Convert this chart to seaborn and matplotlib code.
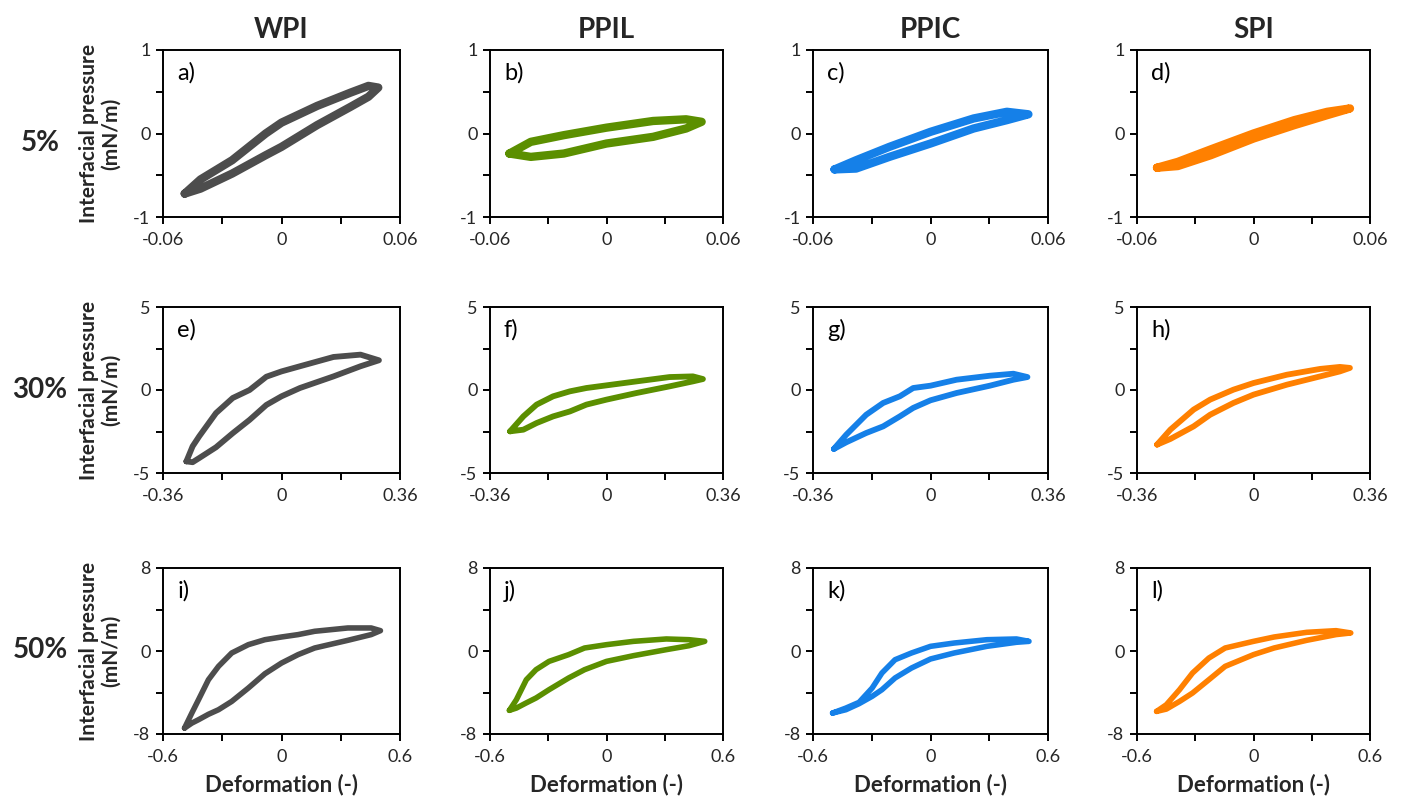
import matplotlib
matplotlib.use("Agg")
import matplotlib.pyplot as plt
import seaborn as sns
import pandas as pd
from matplotlib.ticker import FixedLocator

# ---------------- data ----------------
proteins = ["WPI", "PPIL", "PPIC", "SPI"]
amplitudes = ["5%", "30%", "50%"]
panel_letters = [["a)", "b)", "c)", "d)"], ["e)", "f)", "g)", "h)"], ["i)", "j)", "k)", "l)"]]
colors = ["#4d4d4d", "#5b8f00", "#1580e8", "#ff8000"]
x_limits = [0.06, 0.36, 0.6]
y_limits = [1, 5, 8]
x_ticklabels = [["-0.06", "0", "0.06"], ["-0.36", "0", "0.36"], ["-0.6", "0", "0.6"]]
y_ticklabels = [["-1", "0", "1"], ["-5", "0", "5"], ["-8", "0", "8"]]
x_label = "Deformation (-)"
y_label = "Interfacial pressure\n(mN/m)"

# each panel: tips (left end, right end), branch x, upper branch, lower branch
a_tip_x = [-0.049, 0.049]; a_tip_y = [-0.72, 0.55]
a_x = [-0.041, -0.025, -0.008, 0.0, 0.018, 0.035, 0.044]
a_up = [-0.55, -0.32, 0.0, 0.13, 0.33, 0.49, 0.57]
a_low = [-0.66, -0.48, -0.26, -0.16, 0.10, 0.32, 0.44]

b_tip_x = [-0.050, 0.049]; b_tip_y = [-0.24, 0.14]
b_x = [-0.039, -0.022, 0.0, 0.024, 0.041]
b_up = [-0.10, -0.02, 0.07, 0.15, 0.17]
b_low = [-0.28, -0.24, -0.12, -0.04, 0.06]

c_tip_x = [-0.049, 0.050]; c_tip_y = [-0.43, 0.23]
c_x = [-0.038, -0.021, 0.0, 0.022, 0.039]
c_up = [-0.32, -0.16, 0.02, 0.18, 0.26]
c_low = [-0.42, -0.28, -0.12, 0.06, 0.16]

d_tip_x = [-0.0497, 0.0497]; d_tip_y = [-0.41, 0.30]
d_x = [-0.039, -0.022, 0.0, 0.021, 0.038]
d_up = [-0.34, -0.19, 0.0, 0.16, 0.26]
d_low = [-0.39, -0.26, -0.06, 0.10, 0.22]

e_tip_x = [-0.289, 0.296]; e_tip_y = [-4.3, 1.79]
e_x = [-0.270, -0.250, -0.199, -0.148, -0.097, -0.046, 0.0, 0.056, 0.158, 0.240]
e_up = [-3.39, -2.79, -1.39, -0.48, 0.0, 0.80, 1.12, 1.43, 1.99, 2.13]
e_low = [-4.35, -4.1, -3.45, -2.6, -1.8, -0.9, -0.38, 0.12, 0.82, 1.43]

f_tip_x = [-0.298, 0.298]; f_tip_y = [-2.49, 0.66]
f_x = [-0.257, -0.216, -0.165, -0.113, -0.062, 0.0, 0.093, 0.195, 0.267]
f_up = [-1.59, -0.88, -0.38, -0.08, 0.12, 0.28, 0.52, 0.78, 0.82]
f_low = [-2.39, -1.99, -1.59, -1.29, -0.88, -0.58, -0.18, 0.22, 0.52]

g_tip_x = [-0.296, 0.297]; g_tip_y = [-3.55, 0.78]
g_x = [-0.258, -0.197, -0.145, -0.094, -0.053, 0.0, 0.080, 0.182, 0.254]
g_up = [-2.69, -1.49, -0.78, -0.38, 0.12, 0.26, 0.62, 0.86, 0.98]
g_low = [-3.15, -2.59, -2.19, -1.59, -1.08, -0.62, -0.18, 0.26, 0.62]

h_tip_x = [-0.298, 0.298]; h_tip_y = [-3.29, 1.33]
h_x = [-0.257, -0.185, -0.134, -0.062, 0.0, 0.103, 0.206, 0.267]
h_up = [-2.39, -1.18, -0.58, 0.02, 0.42, 0.92, 1.27, 1.39]
h_low = [-2.95, -2.19, -1.49, -0.78, -0.28, 0.32, 0.82, 1.12]

i_tip_x = [-0.491, 0.501]; i_tip_y = [-7.43, 1.96]
i_x = [-0.454, -0.420, -0.370, -0.319, -0.252, -0.168, -0.084, 0.0, 0.084, 0.168, 0.336, 0.454]
i_up = [-5.98, -4.69, -2.77, -1.48, -0.19, 0.61, 1.09, 1.35, 1.58, 1.90, 2.22, 2.22]
i_low = [-6.95, -6.62, -6.1, -5.66, -4.86, -3.57, -2.19, -1.16, -0.35, 0.29, 1.03, 1.58]

j_tip_x = [-0.50, 0.506]; j_tip_y = [-5.72, 0.93]
j_x = [-0.464, -0.413, -0.363, -0.296, -0.195, -0.113, 0.0, 0.139, 0.308, 0.425]
j_up = [-4.69, -2.77, -1.80, -1.0, -0.35, 0.29, 0.61, 0.93, 1.16, 1.09]
j_low = [-5.5, -5.0, -4.53, -3.73, -2.60, -1.80, -1.0, -0.45, 0.13, 0.51]

k_tip_x = [-0.50, 0.503]; k_tip_y = [-5.98, 0.93]
k_x = [-0.432, -0.365, -0.298, -0.248, -0.181, -0.097, 0.0, 0.121, 0.288, 0.439]
k_up = [-5.5, -4.95, -3.57, -2.12, -0.84, -0.19, 0.45, 0.77, 1.09, 1.16]
k_low = [-5.66, -5.08, -4.37, -3.73, -2.60, -1.64, -0.77, -0.19, 0.45, 0.84]

l_tip_x = [-0.499, 0.501]; l_tip_y = [-5.82, 1.74]
l_x = [-0.449, -0.381, -0.314, -0.230, -0.146, 0.0, 0.106, 0.274, 0.425]
l_up = [-5.18, -3.73, -2.12, -0.68, 0.29, 0.93, 1.35, 1.80, 1.96]
l_low = [-5.6, -4.86, -4.05, -2.77, -1.48, -0.35, 0.29, 1.03, 1.58]

panels = [
    [(a_tip_x, a_tip_y, a_x, a_up, a_low), (b_tip_x, b_tip_y, b_x, b_up, b_low),
     (c_tip_x, c_tip_y, c_x, c_up, c_low), (d_tip_x, d_tip_y, d_x, d_up, d_low)],
    [(e_tip_x, e_tip_y, e_x, e_up, e_low), (f_tip_x, f_tip_y, f_x, f_up, f_low),
     (g_tip_x, g_tip_y, g_x, g_up, g_low), (h_tip_x, h_tip_y, h_x, h_up, h_low)],
    [(i_tip_x, i_tip_y, i_x, i_up, i_low), (j_tip_x, j_tip_y, j_x, j_up, j_low),
     (k_tip_x, k_tip_y, k_x, k_up, k_low), (l_tip_x, l_tip_y, l_x, l_up, l_low)],
]

# ---------------- style ----------------
sns.set_style("ticks")
plt.rcParams["font.family"] = ["Lato", "DejaVu Sans"]
plt.rcParams["axes.linewidth"] = 1.4

W, H = 1402, 801
fig = plt.figure(figsize=(W / 100, H / 100), dpi=100)

col_left = [163, 490, 813, 1137]
col_right = [400, 723, 1048, 1370]
row_top = [50, 307, 568]
row_bot = [217, 473, 734]
line_w = [6.0, 4.2, 4.0]


def fx(px):
    return px / W


def fy(py):
    return 1 - py / H


for r in range(3):
    for c in range(4):
        l, rr = col_left[c], col_right[c]
        t, b = row_top[r], row_bot[r]
        ax = fig.add_axes([fx(l), fy(b), fx(rr - l), (b - t) / H])
        tip_x, tip_y, bx, up, low = panels[r][c]
        loop_x = [tip_x[0]] + bx + [tip_x[1]] + bx[::-1] + [tip_x[0]]
        loop_y = [tip_y[0]] + low + [tip_y[1]] + up[::-1] + [tip_y[0]]
        df = pd.DataFrame({"x": loop_x, "y": loop_y})
        sns.lineplot(data=df, x="x", y="y", sort=False, estimator=None, ax=ax,
                     color=colors[c], linewidth=line_w[r],
                     solid_capstyle="round", solid_joinstyle="round")
        xl, yl = x_limits[r], y_limits[r]
        ax.set_xlim(-xl, xl)
        ax.set_ylim(-yl, yl)
        ax.xaxis.set_major_locator(FixedLocator([-xl, 0, xl]))
        ax.yaxis.set_major_locator(FixedLocator([-yl, 0, yl]))
        ax.xaxis.set_minor_locator(FixedLocator([-xl / 2, xl / 2]))
        ax.yaxis.set_minor_locator(FixedLocator([-yl / 2, yl / 2]))
        ax.set_xticklabels(x_ticklabels[r])
        ax.set_yticklabels(y_ticklabels[r])
        ax.tick_params(which="both", direction="out", length=5, width=1.4,
                       color="black", labelsize=13, pad=4, top=False, right=False)
        ax.tick_params(axis="x", pad=6)
        for sp in ax.spines.values():
            sp.set_visible(True)
            sp.set_color("black")
            sp.set_linewidth(1.4)
        ax.set_xlabel("")
        ax.set_ylabel("")
        ax.text(0.06, 0.93, panel_letters[r][c], transform=ax.transAxes,
                fontsize=17, va="top", ha="left", color="black")
        if r == 2:
            ax.set_xlabel(x_label, fontsize=16, fontweight="bold", labelpad=6)
        if c == 0:
            fig.text(fx(100), fy((t + b) / 2), y_label, rotation=90, fontsize=15,
                     fontweight="bold", ha="center", va="center",
                     multialignment="center", linespacing=1.15)

for c in range(4):
    fig.text(fx((col_left[c] + col_right[c]) / 2), fy(30), proteins[c],
             fontsize=20, fontweight="bold", ha="center", va="center")

row_label_y = [143, 390, 650]
for r in range(3):
    fig.text(fx(40), fy(row_label_y[r]), amplitudes[r], fontsize=20,
             fontweight="bold", ha="center", va="center")

fig.savefig("out.png", dpi=100, facecolor="white")
